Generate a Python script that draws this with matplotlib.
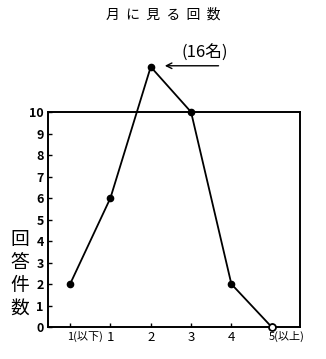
import matplotlib.pyplot as plt
import matplotlib.transforms as mtransforms

plt.rcParams['font.family'] = ['Noto Sans CJK JP', 'DejaVu Sans']

# categories on the x axis and the number of answers
categories = ['1(以下)', '1', '2', '3', '4', '5(以上)']
answers = [2, 6, 12.1, 10, 2, 0]   # the 16 point is drawn off-scale, above the frame
peak_label = '(16名)'
y_ticks = list(range(0, 11))

fig = plt.figure(figsize=(3.26, 3.59), dpi=100)
ax = fig.add_axes([0.147, 0.089, 0.773, 0.599])

x = list(range(len(categories)))
ax.plot(x, answers, color='black', lw=1.3, clip_on=False, zorder=3)
ax.plot(x[:-1], answers[:-1], 'o', color='black', ms=4.5, clip_on=False, zorder=4)
ax.plot(x[-1:], answers[-1:], 'o', mfc='white', mec='black', mew=1.3, ms=5,
        clip_on=False, zorder=4)

ax.set_xlim(-0.55, 5.7)
ax.set_ylim(0, 10)
ax.set_xticks(x)
ax.set_xticklabels(categories, fontsize=9.5)
ax.set_yticks(y_ticks)
ax.set_yticklabels([str(v) for v in y_ticks], fontsize=9, fontweight='bold')
ax.tick_params(direction='in', length=3, width=1, pad=3)

# labels with a bracket start at the tick, the digit sitting on it
shift = mtransforms.ScaledTranslation(-3 / 100, 0, fig.dpi_scale_trans)
for lab in ax.get_xticklabels():
    if '(' in lab.get_text():
        lab.set_ha('left')
        lab.set_fontsize(8)
        lab.set_transform(lab.get_transform() + shift)

for side in ['left', 'right', 'top', 'bottom']:
    ax.spines[side].set_linewidth(1.4)

# arrow and label for the peak
ipk = answers.index(max(answers))
ax.annotate('', xy=(ipk + 0.28, answers[ipk] + 0.05), xytext=(ipk + 1.75, answers[ipk] + 0.05),
            arrowprops=dict(arrowstyle='->', color='black', lw=1.0), annotation_clip=False)
ax.text(ipk + 1.35, answers[ipk] + 0.65, peak_label, fontsize=12, ha='center', va='center')

fig.text(0.5, 0.958, '月  に  見  る  回  数', ha='center', va='center', fontsize=10)
fig.text(0.062, 0.237, '回\n答\n件\n数', ha='center', va='center', fontsize=13.5,
         linespacing=1.12)

fig.savefig('out.png', dpi=100)
